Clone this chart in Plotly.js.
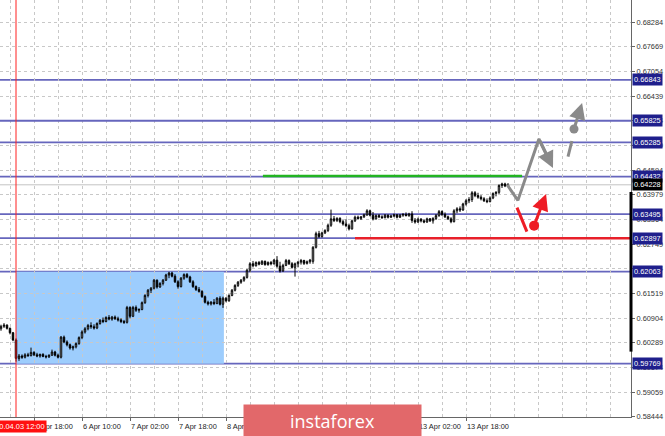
<!DOCTYPE html>
<html>
<head>
<meta charset="utf-8">
<script src="https://cdn.plot.ly/plotly-3.0.1.min.js"></script>
<style>html,body{margin:0;padding:0;background:#fff;}#chart{width:665px;height:436px;}</style>
</head>
<body>
<div id="chart"></div>
<script>
// ---- data (H1 bars, bar 0 = 2020.04.03 12:00) ----
const firstBar = -5;
const opens = [
0.6064,0.6070,0.6073,0.6065,0.6054,0.6036,
0.5990,0.5996,0.5993,0.5999,0.5997,0.6005,0.5999,0.5996,0.6000,0.5995,0.5994,0.5998,0.6006,0.5998,
0.5993,0.6043,0.6031,0.6024,0.6016,0.6019,
0.6027,0.6042,0.6056,0.6064,0.6072,0.6069,0.6066,0.6077,0.6085,0.6082,
0.6092,0.6088,0.6093,0.6089,0.6086,0.6082,0.6080,0.6117,0.6095,0.6117,
0.6110,0.6112,0.6129,0.6147,0.6160,0.6165,0.6185,0.6168,0.6177,0.6185,
0.6198,0.6203,0.6195,0.6181,0.6169,0.6190,0.6199,0.6193,0.6181,0.6169,
0.6162,0.6157,0.6144,0.6130,0.6126,0.6130,0.6127,0.6140,0.6125,0.6140,
0.6134,0.6147,0.6160,0.6172,0.6180,0.6185,0.6192,0.6210,0.6226,0.6221,
0.6229,0.6225,0.6232,0.6224,0.6229,0.6226,0.6235,0.6220,0.6208,0.6222,
0.6234,0.6226,0.6217,0.6226,0.6230,0.6234,0.6227,0.6231,0.6232,0.6267,
0.6301,0.6294,0.6303,0.6309,0.6322,0.6338,0.6334,0.6339,0.6331,0.6325,
0.6321,0.6313,0.6333,0.6342,0.6339,0.6343,0.6348,0.6358,0.6347,0.6338,
0.6346,0.6343,0.6341,0.6347,0.6342,0.6345,0.6348,0.6342,0.6347,0.6349,
0.6346,0.6350,0.6334,0.6330,0.6337,0.6333,0.6330,0.6338,0.6333,0.6339,
0.6346,0.6356,0.6349,0.6343,0.6338,0.6331,0.6358,0.6363,0.6360,0.6375,
0.6383,0.6386,0.6403,0.6396,0.6392,0.6388,0.6383,0.6381,0.6390,0.6401,
0.6404,0.6421,0.6425,0.6420];
const highs = [
0.6074,0.6078,0.6075,0.6067,0.6056,0.6040,
0.6001,0.6000,0.6003,0.6004,0.6017,0.6008,0.6004,0.6002,0.6003,0.5999,0.6000,0.6012,0.6009,0.6002,
0.6046,0.6047,0.6035,0.6027,0.6022,0.6030,
0.6045,0.6060,0.6068,0.6076,0.6080,0.6075,0.6080,0.6088,0.6092,0.6095,
0.6098,0.6096,0.6097,0.6094,0.6090,0.6086,0.6121,0.6120,0.6121,0.6122,
0.6115,0.6132,0.6150,0.6163,0.6168,0.6188,0.6187,0.6180,0.6188,0.6201,
0.6206,0.6206,0.6200,0.6185,0.6193,0.6202,0.6203,0.6196,0.6185,0.6172,
0.6168,0.6160,0.6147,0.6134,0.6133,0.6138,0.6143,0.6145,0.6144,0.6143,
0.6150,0.6163,0.6175,0.6183,0.6188,0.6195,0.6213,0.6230,0.6233,0.6232,
0.6233,0.6235,0.6234,0.6232,0.6233,0.6238,0.6245,0.6231,0.6226,0.6238,
0.6237,0.6230,0.6229,0.6233,0.6238,0.6236,0.6234,0.6238,0.6270,0.6306,
0.6308,0.6306,0.6312,0.6326,0.6361,0.6345,0.6342,0.6342,0.6335,0.6337,
0.6326,0.6336,0.6346,0.6346,0.6345,0.6351,0.6362,0.6361,0.6355,0.6349,
0.6350,0.6347,0.6350,0.6349,0.6348,0.6351,0.6350,0.6350,0.6352,0.6354,
0.6353,0.6357,0.6340,0.6341,0.6340,0.6337,0.6341,0.6340,0.6342,0.6350,
0.6360,0.6359,0.6354,0.6346,0.6342,0.6362,0.6367,0.6369,0.6378,0.6387,
0.6392,0.6407,0.6407,0.6403,0.6397,0.6392,0.6389,0.6394,0.6404,0.6407,
0.6424,0.6428,0.6428,0.6427];
const lows = [
0.6059,0.6066,0.6062,0.6050,0.6033,0.5982,
0.5984,0.5989,0.5990,0.5994,0.5995,0.5996,0.5993,0.5992,0.5993,0.5990,0.5991,0.5996,0.5995,0.5990,
0.5990,0.6028,0.6020,0.6012,0.6010,0.6015,
0.6024,0.6038,0.6052,0.6060,0.6064,0.6062,0.6063,0.6074,0.6078,0.6080,
0.6085,0.6084,0.6086,0.6082,0.6078,0.6076,0.6077,0.6090,0.6093,0.6106,
0.6104,0.6110,0.6126,0.6142,0.6153,0.6162,0.6164,0.6166,0.6172,0.6183,
0.6190,0.6192,0.6178,0.6164,0.6167,0.6186,0.6190,0.6178,0.6166,0.6158,
0.6154,0.6141,0.6127,0.6122,0.6122,0.6123,0.6125,0.6122,0.6116,0.6130,
0.6131,0.6145,0.6157,0.6168,0.6176,0.6181,0.6189,0.6205,0.6217,0.6219,
0.6222,0.6223,0.6221,0.6221,0.6222,0.6224,0.6216,0.6204,0.6206,0.6220,
0.6223,0.6214,0.6194,0.6217,0.6224,0.6223,0.6224,0.6226,0.6226,0.6264,
0.6290,0.6291,0.6300,0.6305,0.6318,0.6330,0.6330,0.6327,0.6321,0.6317,
0.6309,0.6311,0.6330,0.6336,0.6335,0.6340,0.6345,0.6344,0.6334,0.6336,
0.6340,0.6338,0.6339,0.6339,0.6340,0.6342,0.6339,0.6340,0.6343,0.6344,
0.6343,0.6328,0.6326,0.6328,0.6329,0.6327,0.6328,0.6330,0.6326,0.6335,
0.6343,0.6345,0.6340,0.6335,0.6327,0.6329,0.6352,0.6355,0.6358,0.6371,
0.6377,0.6380,0.6392,0.6388,0.6384,0.6380,0.6377,0.6379,0.6387,0.6394,
0.6400,0.6415,0.6417,0.6418];
const closes = [
0.6070,0.6073,0.6065,0.6054,0.6036,0.5990,
0.5996,0.5993,0.5999,0.5997,0.6005,0.5999,0.5996,0.6000,0.5995,0.5994,0.5998,0.6006,0.5998,0.5993,
0.6043,0.6031,0.6024,0.6016,0.6019,0.6027,
0.6042,0.6056,0.6064,0.6072,0.6069,0.6066,0.6077,0.6085,0.6082,0.6092,
0.6088,0.6093,0.6089,0.6086,0.6082,0.6080,0.6117,0.6095,0.6117,0.6110,
0.6112,0.6129,0.6147,0.6160,0.6165,0.6185,0.6168,0.6177,0.6185,0.6198,
0.6203,0.6195,0.6181,0.6169,0.6190,0.6199,0.6193,0.6181,0.6169,0.6162,
0.6157,0.6144,0.6130,0.6126,0.6130,0.6127,0.6140,0.6125,0.6140,0.6134,
0.6147,0.6160,0.6172,0.6180,0.6185,0.6192,0.6210,0.6226,0.6221,0.6229,
0.6225,0.6232,0.6224,0.6229,0.6226,0.6235,0.6220,0.6208,0.6222,0.6234,
0.6226,0.6217,0.6226,0.6230,0.6234,0.6227,0.6231,0.6235,0.6267,0.6301,
0.6294,0.6303,0.6309,0.6322,0.6338,0.6334,0.6339,0.6331,0.6325,0.6321,
0.6313,0.6333,0.6342,0.6339,0.6343,0.6348,0.6358,0.6347,0.6338,0.6346,
0.6343,0.6341,0.6347,0.6342,0.6345,0.6348,0.6342,0.6347,0.6349,0.6346,
0.6350,0.6334,0.6330,0.6337,0.6333,0.6330,0.6338,0.6333,0.6339,0.6346,
0.6356,0.6349,0.6343,0.6338,0.6331,0.6358,0.6363,0.6360,0.6375,0.6383,
0.6386,0.6403,0.6396,0.6392,0.6388,0.6383,0.6381,0.6390,0.6401,0.6404,
0.6421,0.6425,0.6420,0.6423];

const levels = [0.66843, 0.65825, 0.65285, 0.64432, 0.63495, 0.62897, 0.62063, 0.59769];
const bidPrice = 0.64228;
const resistanceGreen = 0.6445;
const supportRed = 0.62897;
const zoneBars = [0, 69.3];
const zonePrices = [0.59769, 0.62063];
const greenBars = [82.3, 168.7];
const redBars = [113, 205];

const yTickVals = [0.58444,0.59059,0.59674,0.60289,0.60904,0.61519,0.62134,0.62749,0.63364,0.63979,0.64594,0.65209,0.65824,0.66439,0.67054,0.67669,0.68284];
const xLabelBars = [6, 22, 38, 54, 70, 86, 102, 118, 134, 150];
const xLabelText = ['3 Apr 18:00','6 Apr 10:00','7 Apr 02:00','7 Apr 18:00','8 Apr 10:00','9 Apr 02:00','9 Apr 18:00','10 Apr 10:00','13 Apr 02:00','13 Apr 18:00'];
const markerBarLabel = '2020.04.03 12:00';

// forecast scheme
const greyPathBars = [163.7, 167.3, 174.3];
const greyPathPrices = [0.6423, 0.6384, 0.6537];
const greyHeadBar = 179.0, greyHeadPrice = 0.6465;
const greyDashBars = [184.0, 185.3];
const greyDashPrices = [0.6493, 0.6532];
const greyDotBar = 186.0, greyDotPrice = 0.6562;
const greyUpBar = 188.7, greyUpPrice = 0.6627;
const redPathBars = [167.0, 170.3];
const redPathPrices = [0.6366, 0.6306];
const redDotBar = 172.7, redDotPrice = 0.6321;
const redUpBar = 176.7, redUpPrice = 0.6400;

const xs = opens.map((_, i) => firstBar + i);

const GREY = '#8a8a8a', RED = '#ee1c25', LVL = '#6666bd';
const FONT = 'Liberation Sans, Arial, sans-serif';

const traces = [
  {
    type: 'candlestick', x: xs, open: opens, high: highs, low: lows, close: closes,
    increasing: {line: {color: '#000', width: 1}, fillcolor: '#ffffff'},
    decreasing: {line: {color: '#000', width: 1}, fillcolor: '#000000'},
    whiskerwidth: 0, hoverinfo: 'skip', showlegend: false
  },
  {type: 'scatter', mode: 'lines', x: greyPathBars.concat([greyHeadBar - 0.9]), y: greyPathPrices.concat([greyHeadPrice + 0.00135]),
   line: {color: GREY, width: 3}, hoverinfo: 'skip', showlegend: false},
  {type: 'scatter', mode: 'lines', x: greyDashBars, y: greyDashPrices,
   line: {color: GREY, width: 3}, hoverinfo: 'skip', showlegend: false},
  {type: 'scatter', mode: 'markers', x: [greyDotBar], y: [greyDotPrice],
   marker: {color: GREY, size: 9}, hoverinfo: 'skip', showlegend: false},
  {type: 'scatter', mode: 'lines', x: redPathBars, y: redPathPrices,
   line: {color: RED, width: 3}, hoverinfo: 'skip', showlegend: false},
  {type: 'scatter', mode: 'markers', x: [redDotBar], y: [redDotPrice],
   marker: {color: RED, size: 10}, hoverinfo: 'skip', showlegend: false}
];

const shapes = [
  {type: 'rect', xref: 'x', yref: 'y', x0: zoneBars[0], x1: zoneBars[1], y0: zonePrices[0], y1: zonePrices[1],
   fillcolor: '#9dcdfd', line: {width: 0}, layer: 'below'},
  {type: 'line', xref: 'paper', yref: 'y', x0: 0, x1: 1, y0: bidPrice, y1: bidPrice,
   line: {color: '#c4c4c4', width: 1}, layer: 'between'}
];
// a level lying on a grid line is drawn on top so the dashes do not show through
levels.forEach(v => {
  const onGrid = yTickVals.some(t => Math.abs(t - v) < 0.0002);
  shapes.push({type: 'line', xref: 'paper', yref: 'y', x0: 0, x1: 1, y0: v, y1: v,
    line: {color: LVL, width: 1.8}, layer: onGrid ? 'above' : 'between'});
});
shapes.push({type: 'line', xref: 'x', yref: 'y', x0: greenBars[0], x1: greenBars[1], y0: resistanceGreen, y1: resistanceGreen,
  line: {color: '#22b422', width: 2.5}, layer: 'between'});
shapes.push({type: 'line', xref: 'x', yref: 'y', x0: redBars[0], x1: redBars[1], y0: supportRed, y1: supportRed,
  line: {color: '#e8202a', width: 2.5}, layer: 'between'});
shapes.push({type: 'line', xref: 'x', yref: 'paper', x0: 0, x1: 0, y0: 0, y1: 1,
  line: {color: '#ff2020', width: 1}, layer: 'above'});
shapes.push({type: 'line', xref: 'paper', yref: 'y', x0: 1, x1: 1, y0: 0.6007, y1: 0.6405,
  line: {color: '#000', width: 3}, layer: 'above'});

const annotations = [];
// arrows
annotations.push({x: greyHeadBar, y: greyHeadPrice, ax: greyPathBars[2], ay: greyPathPrices[2], xref: 'x', yref: 'y', axref: 'x', ayref: 'y',
  text: '', showarrow: true, arrowhead: 2, arrowsize: 1.1, arrowwidth: 3, arrowcolor: GREY, standoff: 0, startstandoff: 0});
annotations.push({x: greyUpBar, y: greyUpPrice, ax: greyDotBar, ay: greyDotPrice, xref: 'x', yref: 'y', axref: 'x', ayref: 'y',
  text: '', showarrow: true, arrowhead: 2, arrowsize: 1.1, arrowwidth: 3, arrowcolor: GREY, standoff: 0, startstandoff: 0});
annotations.push({x: redUpBar, y: redUpPrice, ax: redDotBar, ay: redDotPrice, xref: 'x', yref: 'y', axref: 'x', ayref: 'y',
  text: '', showarrow: true, arrowhead: 2, arrowsize: 1.1, arrowwidth: 3, arrowcolor: RED, standoff: 0, startstandoff: 0});
// x labels
xLabelBars.forEach((b, i) => annotations.push({x: b, xref: 'x', y: 0, yref: 'paper', yanchor: 'top', xanchor: 'left',
  xshift: -1, yshift: -3, text: xLabelText[i], showarrow: false, font: {family: FONT, size: 7.4, color: '#222'}}));
// current bar label
annotations.push({x: 0, xref: 'x', y: 0, yref: 'paper', yanchor: 'top', xanchor: 'center', yshift: -3,
  text: markerBarLabel, showarrow: false, bgcolor: '#ff1010', borderpad: 1, font: {family: FONT, size: 7.4, color: '#fff'}});
// level price labels
levels.forEach(v => annotations.push({x: 1, xref: 'paper', y: v, yref: 'y', xanchor: 'left', yanchor: 'middle', xshift: 1,
  text: v.toFixed(5), showarrow: false, bgcolor: '#1f1f8c', borderpad: 1, font: {family: FONT, size: 7.4, color: '#fff'}}));
annotations.push({x: 1, xref: 'paper', y: bidPrice, yref: 'y', xanchor: 'left', yanchor: 'middle', xshift: 1,
  text: bidPrice.toFixed(5), showarrow: false, bgcolor: '#000', borderpad: 1, font: {family: FONT, size: 7.4, color: '#fff'}});
// watermark
annotations.push({x: 0.527, xref: 'paper', y: -0.0084, yref: 'paper', xanchor: 'center', yanchor: 'middle',
  width: 177, height: 31, borderpad: 0, text: 'instaforex', showarrow: false, bgcolor: 'rgb(226,104,106)',
  font: {family: 'Open Sans, Liberation Sans, sans-serif', size: 18, color: '#fff'}});

const layout = {
  width: 665, height: 436,
  margin: {l: 0, r: 34, t: 0, b: 19, pad: 0},
  paper_bgcolor: '#fff', plot_bgcolor: '#fff',
  showlegend: false, hovermode: false, dragmode: false,
  font: {family: FONT, size: 7.4, color: '#222'},
  xaxis: {
    range: [-5.333, 205], fixedrange: true, zeroline: false,
    showline: true, linecolor: '#666', linewidth: 1,
    tickmode: 'array', tickvals: xLabelBars, ticks: 'outside', ticklen: 3, tickcolor: '#666',
    showticklabels: false, showgrid: false,
    minor: {tick0: 6, dtick: 8, showgrid: true, gridcolor: '#c8c8c8', griddash: '3px,3px', gridwidth: 1, ticks: ''},
    rangeslider: {visible: false}
  },
  yaxis: {
    side: 'right', range: [0.5844, 0.68835], fixedrange: true, zeroline: false,
    showline: true, linecolor: '#666', linewidth: 1,
    tickmode: 'array', tickvals: yTickVals, ticktext: yTickVals.map(v => v.toFixed(5)),
    ticks: 'outside', ticklen: 3, tickcolor: '#666',
    showgrid: true, gridcolor: '#c8c8c8', griddash: '3px,3px', gridwidth: 1,
    tickfont: {family: FONT, size: 7.4, color: '#333'}
  },
  shapes: shapes,
  annotations: annotations
};

Plotly.newPlot('chart', traces, layout, {staticPlot: true, displayModeBar: false});
</script>
</body>
</html>
